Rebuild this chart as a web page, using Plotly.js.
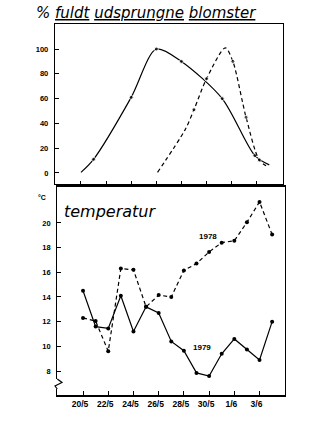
<!DOCTYPE html>
<html>
<head>
<meta charset="utf-8">
<script src="https://cdn.plot.ly/plotly-3.0.1.min.js"></script>
<style>html,body{margin:0;padding:0;background:#fff;}#chart{width:330px;height:432px;}</style>
</head>
<body>
<div id="chart"></div>
<script>
// ---- data (day numbers: May days, 1/6 = 32) ----
var tickDays = [20, 22, 24, 26, 28, 30, 32, 34];
var tickLabels = ['20/5', '22/5', '24/5', '26/5', '28/5', '30/5', '1/6', '3/6'];

// top panel: % fully opened flowers
var solidBloomDays = [20, 21, 24, 26, 28, 31.25, 33.85, 35];
var solidBloomPct  = [0.5, 11, 61, 100, 90, 60, 14, 6.5];
var solidBloomMark = [0, 4, 4, 4, 4, 4, 4, 0];

var dashedBloomDays = [26.1, 28.3, 29, 30, 31.5, 32.1, 33.15, 34.2, 34.95];
var dashedBloomPct  = [0.5, 35, 51, 76, 101, 90, 45, 10.5, 4.5];
var dashedBloomMark = [0, 0, 4, 4, 0, 4, 4, 4, 0];

// bottom panel: temperature
var tempDays = [20, 21, 22, 23, 24, 25, 26, 27, 28, 29, 30, 31, 32, 33, 34, 35];
var temp1978 = [12.3, 12.05, 9.6, 16.3, 16.2, 13.2, 14.15, 14.0, 16.15, 16.7, 17.65, 18.4, 18.55, 20.05, 21.7, 19.05];
var temp1979 = [14.5, 11.6, 11.45, 14.1, 11.2, 13.2, 12.7, 10.4, 9.65, 7.85, 7.6, 9.4, 10.6, 9.75, 8.9, 12.0];

var W = 330, H = 432;
function px(x) { return x / W; }
function py(y) { return 1 - y / H; }

var black = '#000';
var traces = [
  {x: solidBloomDays, y: solidBloomPct, xaxis: 'x', yaxis: 'y', mode: 'lines+markers',
   line: {color: black, width: 1.2, shape: 'spline', smoothing: 0.8},
   marker: {color: black, size: solidBloomMark, symbol: 'circle'}, hoverinfo: 'skip'},
  {x: dashedBloomDays, y: dashedBloomPct, xaxis: 'x', yaxis: 'y', mode: 'lines+markers',
   line: {color: black, width: 1.2, shape: 'spline', smoothing: 0.8, dash: '4px,3px'},
   marker: {color: black, size: dashedBloomMark, symbol: 'circle'}, hoverinfo: 'skip'},
  {x: tempDays, y: temp1978, xaxis: 'x2', yaxis: 'y2', mode: 'lines+markers',
   line: {color: black, width: 1.2, dash: '4px,3px'},
   marker: {color: black, size: 4, symbol: 'circle'}, hoverinfo: 'skip'},
  {x: tempDays, y: temp1979, xaxis: 'x2', yaxis: 'y2', mode: 'lines+markers',
   line: {color: black, width: 1.2},
   marker: {color: black, size: 4, symbol: 'circle'}, hoverinfo: 'skip'}
];

var tickFont = {family: 'Liberation Sans, Arial, sans-serif', size: 7.5, color: black, weight: 'bold'};
var axisCommon = {showgrid: false, zeroline: false, showline: true, mirror: true,
  linecolor: black, linewidth: 1.2, ticks: 'inside', tickcolor: black, tickwidth: 1, fixedrange: true};

var layout = {
  width: W, height: H,
  margin: {l: 0, r: 0, t: 0, b: 0},
  paper_bgcolor: '#fff', plot_bgcolor: '#fff',
  showlegend: false,
  font: {family: 'Liberation Sans, Arial, sans-serif', color: black},
  xaxis: Object.assign({}, axisCommon, {
    domain: [px(55), px(282.7)], range: [17.93, 36.07], anchor: 'y',
    tickvals: tickDays, showticklabels: false, ticklen: 3
  }),
  yaxis: Object.assign({}, axisCommon, {
    domain: [py(184), py(24)], range: [-8.9, 120.2], anchor: 'x',
    tickvals: [0, 20, 40, 60, 80, 100], ticklen: 4, tickfont: tickFont, ticklabelstandoff: 4
  }),
  xaxis2: Object.assign({}, axisCommon, {
    domain: [px(57.3), px(285)], range: [17.96, 36.02], anchor: 'y2',
    tickvals: tickDays, ticktext: tickLabels, ticklen: 4, linewidth: 1.5,
    tickfont: {family: 'Liberation Sans, Arial, sans-serif', size: 8.5, color: black, weight: 'bold'},
    ticklabelshift: -3, ticklabelstandoff: 0
  }),
  yaxis2: Object.assign({}, axisCommon, {
    domain: [py(395), py(186.7)], range: [6.06, 22.93], anchor: 'x2',
    tickvals: [8, 10, 12, 14, 16, 18, 20], ticklen: 4, tickfont: tickFont, ticklabelstandoff: 4
  }),
  annotations: [
    {xref: 'paper', yref: 'paper', x: px(34), y: py(13), xanchor: 'left', yanchor: 'middle',
     text: '<i>% <u>fuldt</u> <u>udsprungne</u> <u>blomster</u></i>', showarrow: false,
     font: {family: 'DejaVu Sans, sans-serif', size: 15, style: 'italic', color: black}},
    {xref: 'paper', yref: 'paper', x: px(62), y: py(211), xanchor: 'left', yanchor: 'middle',
     text: '<i>temperatur</i>', showarrow: false,
     font: {family: 'DejaVu Sans, sans-serif', size: 16, style: 'italic', color: black}},
    {xref: 'paper', yref: 'paper', x: px(42), y: py(197), xanchor: 'center', yanchor: 'middle',
     text: '°C', showarrow: false,
     font: {family: 'Liberation Sans, Arial, sans-serif', size: 7, color: black, weight: 'bold'}},
    {xref: 'x2', yref: 'y2', x: 29.9, y: 18.9, xanchor: 'center', yanchor: 'middle',
     text: '1978', showarrow: false,
     font: {family: 'Liberation Sans, Arial, sans-serif', size: 8, color: black, weight: 'bold'}},
    {xref: 'x2', yref: 'y2', x: 29.44, y: 9.94, xanchor: 'center', yanchor: 'middle',
     text: '1979', showarrow: false,
     font: {family: 'Liberation Sans, Arial, sans-serif', size: 8, color: black, weight: 'bold'}}
  ],
  shapes: [
    // axis break symbol on the temperature axis
    {type: 'rect', xref: 'paper', yref: 'paper', x0: px(55.5), x1: px(59), y0: py(389), y1: py(379),
     line: {width: 0}, fillcolor: '#fff', layer: 'above'},
    {type: 'path', xref: 'paper', yref: 'paper', layer: 'above',
     path: 'M ' + px(57.3) + ',' + py(379) + ' L ' + px(62) + ',' + py(382.5) +
           ' L ' + px(55) + ',' + py(386) + ' L ' + px(57.3) + ',' + py(389),
     line: {color: black, width: 1.2}}
  ]
};

Plotly.newPlot('chart', traces, layout, {staticPlot: true, displayModeBar: false});
</script>
</body>
</html>
